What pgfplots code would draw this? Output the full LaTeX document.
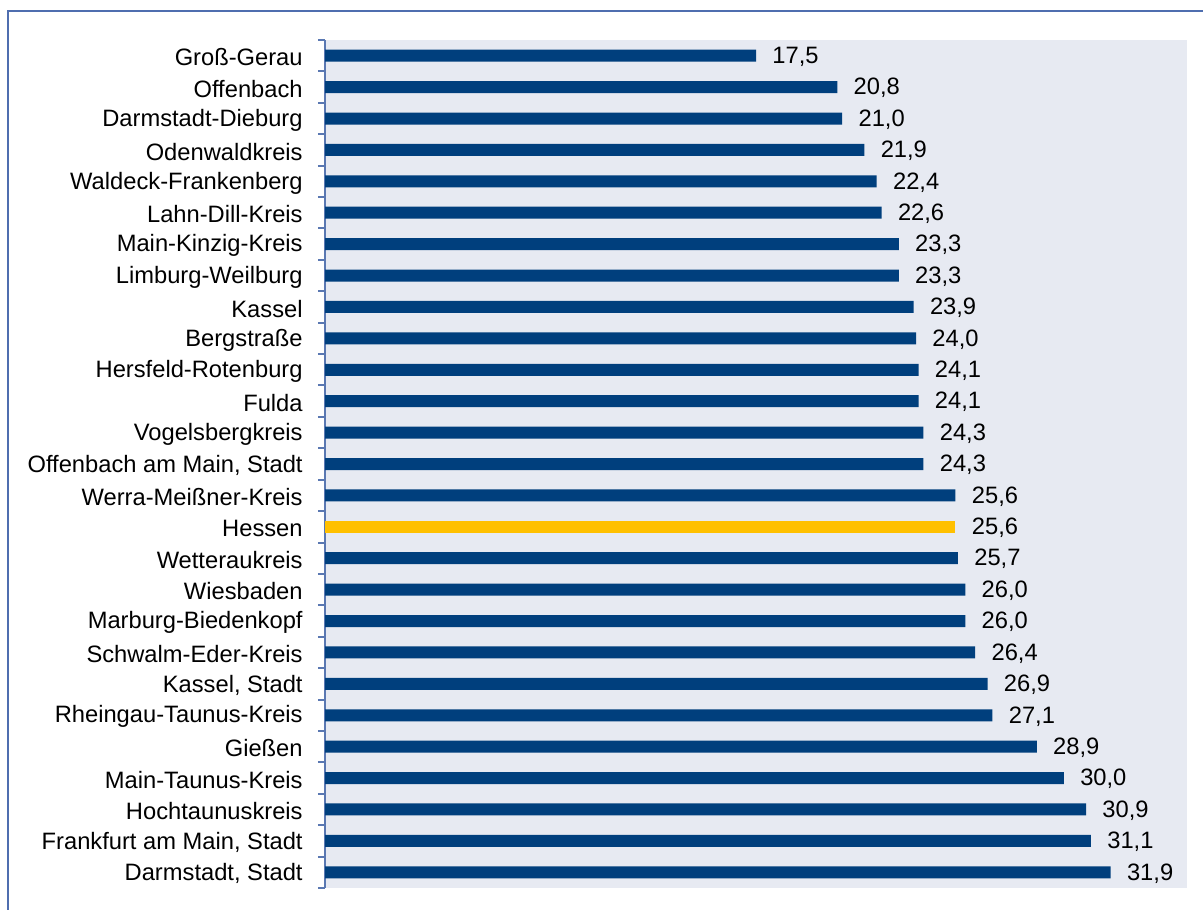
\documentclass[border=0pt]{standalone}
\usepackage{fontspec}
\setmainfont{Liberation Sans}
\usepackage{pgfplots}
\pgfplotsset{compat=1.18}
\definecolor{barblue}{RGB}{0,63,125}
\definecolor{baryellow}{RGB}{255,192,0}
\definecolor{bgcol}{RGB}{231,234,242}
\definecolor{framecol}{RGB}{79,110,175}
\definecolor{axcol}{RGB}{90,120,178}
\begin{document}
\begin{tikzpicture}
\useasboundingbox (0,0) rectangle (601.5bp,455bp);
\draw[framecol, line width=1.1bp] (4bp,-10bp) -- (4bp,449.5bp) -- (620bp,449.5bp);
\begin{axis}[
  at={(162.5bp,11bp)}, anchor=south west,
  scale only axis, width=431bp, height=424bp,
  xbar, bar width=6bp, bar shift=0pt,
  xmin=0, xmax=35,
  ymin=-0.5, ymax=26.5, y dir=reverse,
  axis x line=none,
  axis y line*=left,
  y axis line style={axcol, line width=1bp},
  axis background/.style={fill=bgcol},
  ytick={0,...,26},
  minor ytick={-0.5,0.5,...,26.5},
  major tick length=0pt,
  minor tick length=3.5bp,
  tick align=outside,
  minor tick style={axcol, line width=1bp},
  yticklabels={Groß-Gerau,Offenbach,Darmstadt-Dieburg,Odenwaldkreis,Waldeck-Frankenberg,Lahn-Dill-Kreis,Main-Kinzig-Kreis,Limburg-Weilburg,Kassel,Bergstraße,Hersfeld-Rotenburg,Fulda,Vogelsbergkreis,{Offenbach am Main, Stadt},Werra-Meißner-Kreis,Hessen,Wetteraukreis,Wiesbaden,Marburg-Biedenkopf,Schwalm-Eder-Kreis,{Kassel, Stadt},Rheingau-Taunus-Kreis,Gießen,Main-Taunus-Kreis,Hochtaunuskreis,{Frankfurt am Main, Stadt},{Darmstadt, Stadt}},
  yticklabel style={font=\fontsize{11.9}{14}\selectfont, anchor=east, inner sep=0pt, xshift=-11bp, yshift=-0.8bp},
  nodes near coords,
  nodes near coords align={horizontal},
  every node near coord/.append style={font=\fontsize{11.9}{14}\selectfont, anchor=west, inner sep=0pt, xshift=8bp, yshift=-0.5bp, text=black,
    /pgf/number format/.cd, fixed, fixed zerofill, precision=1, use comma, assume math mode=true},
  clip=false,
]
\addplot[fill=barblue, draw=none] coordinates {
(17.5,0) (20.8,1) (21.0,2) (21.9,3) (22.4,4) (22.6,5) (23.3,6) (23.3,7) (23.9,8) (24.0,9)
(24.1,10) (24.1,11) (24.3,12) (24.3,13) (25.6,14) (25.7,16) (26.0,17) (26.0,18) (26.4,19)
(26.9,20) (27.1,21) (28.9,22) (30.0,23) (30.9,24) (31.1,25) (31.9,26)};
\addplot[fill=baryellow, draw=none] coordinates {(25.6,15)};
\end{axis}
\end{tikzpicture}
\end{document}
